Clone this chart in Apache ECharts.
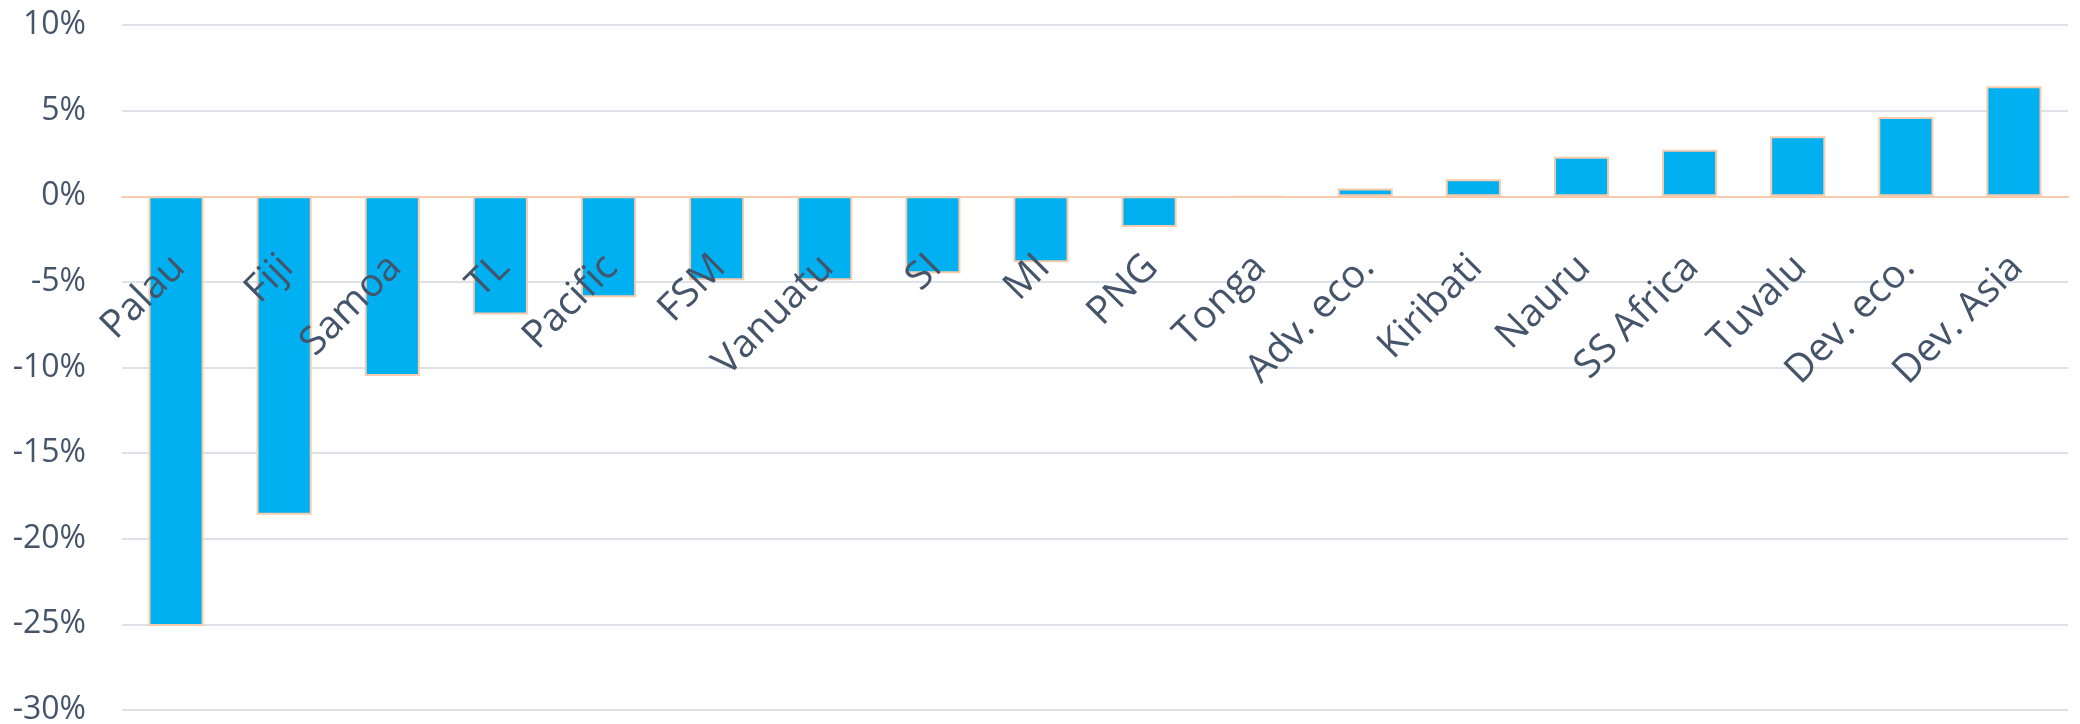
<!DOCTYPE html>
<html>
<head>
<meta charset="utf-8">
<script src="https://cdn.jsdelivr.net/npm/echarts@6/dist/echarts.min.js"></script>
<style>
  html, body { margin: 0; padding: 0; background: #ffffff; }
  #chart { width: 2080px; height: 724px; }
</style>
</head>
<body>
<div id="chart"></div>
<script>
// Economies, ordered from the largest decline to the largest gain
const categories = [
  'Palau', 'Fiji', 'Samoa', 'TL', 'Pacific', 'FSM', 'Vanuatu', 'SI', 'MI',
  'PNG', 'Tonga', 'Adv. eco.', 'Kiribati', 'Nauru', 'SS Africa', 'Tuvalu',
  'Dev. eco.', 'Dev. Asia'
];

// Percentage change for each economy
const values = [
  -25.1, -18.6, -10.5, -6.9, -5.9, -4.9, -4.9, -4.5, -3.85,
  -1.8, -0.05, 0.45, 1.0, 2.3, 2.72, 3.5, 4.63, 6.42
];

// Value axis range and step, in percent
const yMin = -30;
const yMax = 10;
const yStep = 5;

const textColor = '#44546A';
const barColor = '#00B0F0';
const edgeColor = '#F8CBAD';
const gridColor = '#DDE2E9';
const fontFamily = '"Open Sans", "Noto Sans", sans-serif';

const width = 2080;
const height = 724;
const gridTop = 25;
const gridBottom = 14;

// The category axis sits on the zero line: lift it from the plot's bottom edge
// by the share of the plot height that lies below zero.
const plotHeight = height - gridTop - gridBottom;
const zeroLift = plotHeight * (0 - yMin) / (yMax - yMin);

const chart = echarts.init(document.getElementById('chart'), null, { renderer: 'canvas' });

chart.setOption({
  animation: false,
  backgroundColor: '#ffffff',
  grid: {
    left: 122, right: 12, top: gridTop, bottom: gridBottom,
    containLabel: false, outerBoundsMode: 'none'
  },
  xAxis: {
    type: 'category',
    data: categories,
    position: 'bottom',
    offset: -zeroLift,
    z: 10,
    axisLine: { show: true, onZero: false, lineStyle: { color: edgeColor, width: 2 } },
    axisTick: { show: false },
    splitLine: { show: false },
    axisLabel: {
      interval: 0,
      rotate: 45,
      margin: 68,
      padding: [0, -4, 0, 0],
      color: textColor,
      fontSize: 39,
      fontFamily: fontFamily
    }
  },
  yAxis: {
    type: 'value',
    min: yMin,
    max: yMax,
    interval: yStep,
    axisLine: { show: false },
    axisTick: { show: false },
    splitLine: { show: true, lineStyle: { color: gridColor, width: 2 } },
    axisLabel: {
      formatter: '{value}%',
      margin: 36,
      color: textColor,
      fontSize: 32,
      fontFamily: fontFamily
    }
  },
  series: [{
    type: 'bar',
    data: values,
    barWidth: '51%',
    itemStyle: { color: barColor, borderColor: edgeColor, borderWidth: 2 }
  }]
});
</script>
</body>
</html>
